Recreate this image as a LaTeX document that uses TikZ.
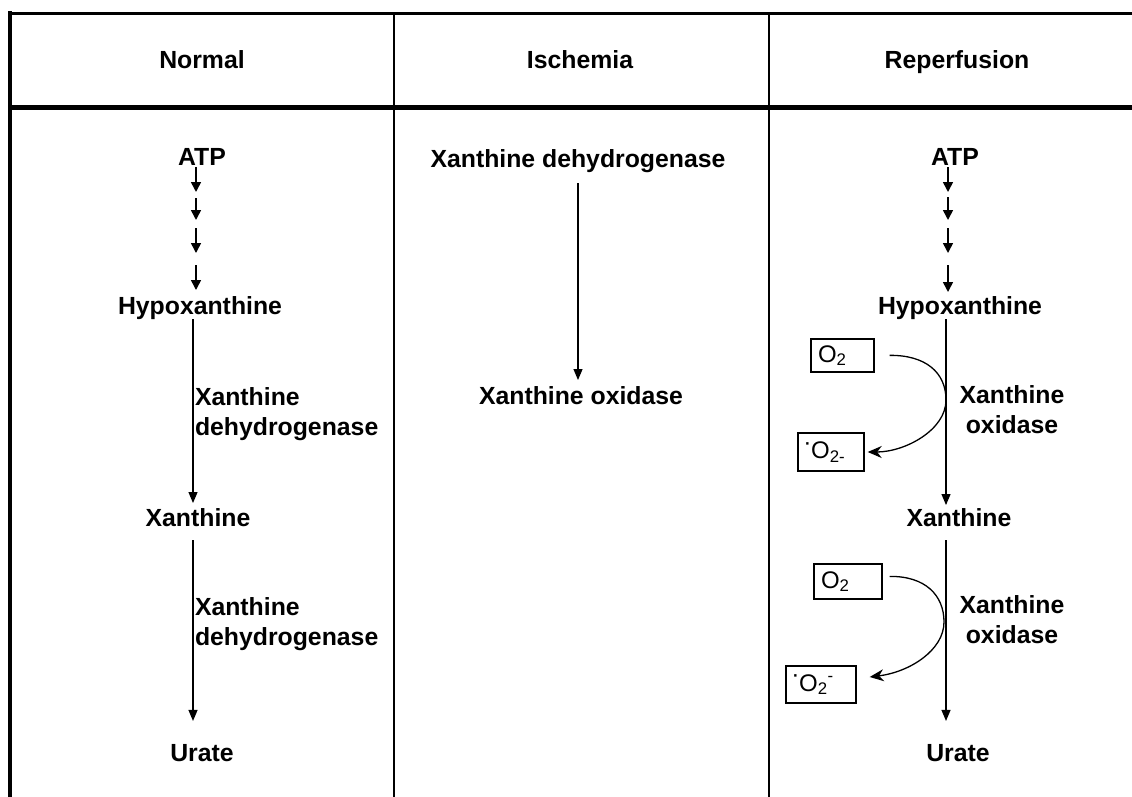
\documentclass[tikz,border=0pt]{standalone}
\usepackage{fontspec}
\setmainfont{Liberation Sans}
\usetikzlibrary{arrows.meta}
\begin{document}
\begin{tikzpicture}[x=1pt,y=-1pt,
  lbl/.style={font=\fontsize{24.8}{30}\selectfont\bfseries, inner sep=0pt, outer sep=0pt},
  mlbl/.style={lbl, align=center},
  llbl/.style={lbl, align=left},
  obox/.style={draw, line width=1.4pt, font=\fontsize{24}{28}\selectfont, inner xsep=7pt, inner ysep=0pt, align=left},
  sarr/.style={line width=1.6pt, -{Triangle[length=10pt,width=10pt]}},
  arr/.style={line width=1.1pt, -{Triangle[length=11pt,width=9pt]}},
  carr/.style={line width=1.3pt, -{Stealth[length=14pt,width=12pt]}},
  gridline/.style={line width=2pt}
]
\useasboundingbox (0,0) rectangle (1132,797);

% frame
\draw[line width=3.5pt] (10,11.5) -- (10,797);
\draw[line width=3pt] (8.25,13.5) -- (1132,13.5);
\draw[line width=5pt] (8.25,107.5) -- (1132,107.5);
\draw[gridline] (393.5,13.5) -- (393.5,797);
\draw[gridline] (769,13.5) -- (769,797);

% headers
\node[lbl,anchor=base] (hN) at (202,69) {Normal};
\node[lbl,anchor=base] (hI) at (580,69) {Ischemia};
\node[lbl,anchor=base] (hR) at (957,69) {Reperfusion};

% column 1: Normal
\node[lbl,anchor=base] (atp1) at (202,165) {ATP};
\node[lbl,anchor=base] (hyp1) at (200,314) {Hypoxanthine};
\node[lbl,anchor=base] (xan1) at (198,526) {Xanthine};
\node[lbl,anchor=base] (ura1) at (202,761) {Urate};
\node[llbl,anchor=north west] (e1a) at (195,388) {Xanthine\\dehydrogenase};
\node[llbl,anchor=north west] (e1b) at (195,598) {Xanthine\\dehydrogenase};
\foreach \i/\s/\e in {1/167/192,2/198/220,3/228/253,4/265/290}{
  \coordinate (sa\i) at (196,\s);
  \coordinate (ta\i) at (196,\e);
  \draw[sarr] (sa\i) -- (ta\i);
}
\coordinate (v1) at (193,0);
\draw[arr, shorten >=5pt] (hyp1.south -| v1) -- (xan1.north -| v1);
\draw[arr, shorten <=14pt, shorten >=23pt] (xan1.south -| v1) -- (ura1.north -| v1);

% column 2: Ischemia
\node[lbl,anchor=base] (xdh2) at (578,167) {Xanthine dehydrogenase};
\node[lbl,anchor=base] (xo2) at (581,404) {Xanthine oxidase};
\coordinate (v2) at (578,0);
\draw[arr, shorten <=11pt, shorten >=6pt] (xdh2.south -| v2) -- (xo2.north -| v2);

% column 3: Reperfusion
\node[lbl,anchor=base] (atp3) at (955,165) {ATP};
\node[lbl,anchor=base] (hyp3) at (960,314) {Hypoxanthine};
\node[lbl,anchor=base] (xan3) at (959,526) {Xanthine};
\node[lbl,anchor=base] (ura3) at (958,761) {Urate};
\node[mlbl,anchor=north] (e3a) at (1012,386) {Xanthine\\oxidase};
\node[mlbl,anchor=north] (e3b) at (1012,596) {Xanthine\\oxidase};
\foreach \i/\s/\e in {1/167/192,2/197/220,3/228/253,4/265/292}{
  \coordinate (sb\i) at (948,\s);
  \coordinate (tb\i) at (948,\e);
  \draw[sarr] (sb\i) -- (tb\i);
}
\coordinate (v3) at (946,0);
\draw[arr, shorten >=3pt] (hyp3.south -| v3) -- (xan3.north -| v3);
\draw[arr, shorten <=14pt, shorten >=23pt] (xan3.south -| v3) -- (ura3.north -| v3);

% oxygen boxes
\node[obox, text width=49pt, minimum height=33pt] (o2a) at (842.5,355.5) {O\textsubscript{2}};
\node[obox, text width=52pt, minimum height=38pt] (o2ma) at (831,452) {\textsuperscript{\textbf{·}}O\textsubscript{2-}};
\node[obox, text width=54pt, minimum height=35pt] (o2b) at (848,581.5) {O\textsubscript{2}};
\node[obox, text width=56pt, minimum height=37pt] (o2mb) at (821,684.5) {\textsuperscript{\textbf{·}}O\textsubscript{2}\textsuperscript{-}};

\coordinate (k1) at (946,400);
\draw[carr, shorten <=15pt, shorten >=3pt] (o2a.east) .. controls (925,355) and (946,372) .. (k1) .. controls (946,430) and (905,452) .. (o2ma.east);
\coordinate (k2) at (944,622);
\draw[carr, shorten <=7pt] ([yshift=5pt]o2b.east) .. controls (925,576) and (944,595) .. (k2) .. controls (944,650) and (910,672) .. ([xshift=13pt,yshift=7.5pt]o2mb.east);
\end{tikzpicture}
\end{document}
